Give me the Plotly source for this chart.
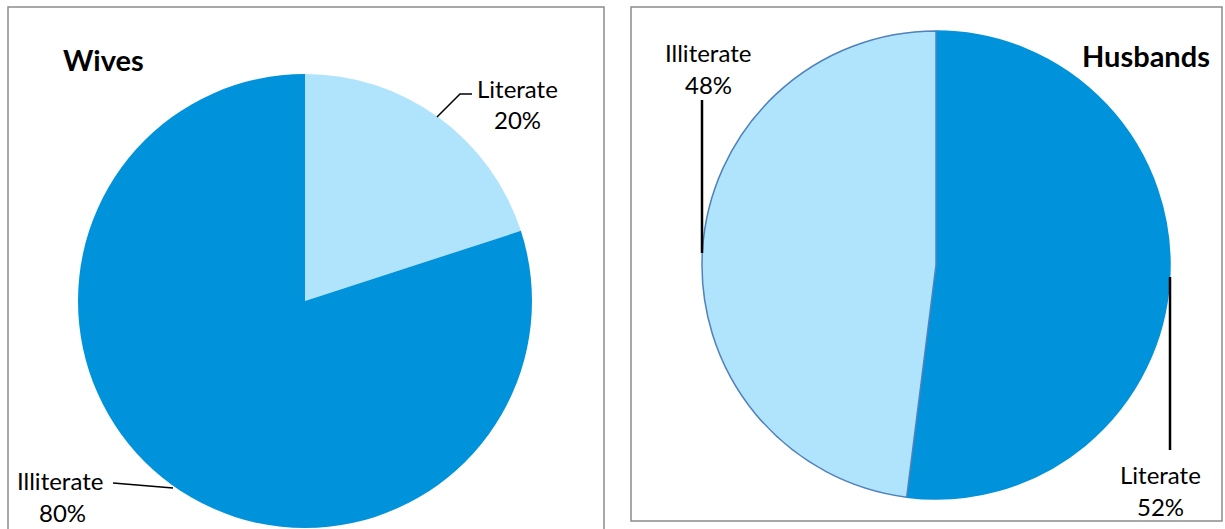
import plotly.graph_objects as go

W, H = 1225, 529

# ---- data ----
wives_labels = ["Literate", "Illiterate"]
wives_values = [20, 80]
husbands_labels = ["Literate", "Illiterate"]
husbands_values = [52, 48]

DARK = "#0092DB"
LIGHT = "#B0E3FC"
OUTLINE = "#4F81BD"
FONT = "Lato"


def px(x):
    return x / W


def py(y):
    return 1 - y / H


fig = go.Figure()

fig.add_trace(go.Pie(
    labels=wives_labels, values=wives_values, sort=False, direction="clockwise",
    rotation=0, textinfo="none", hoverinfo="label+percent",
    marker=dict(colors=[LIGHT, DARK], line=dict(width=0)),
    domain=dict(x=[px(78), px(532)], y=[py(528), py(74)]),
    showlegend=False,
))
fig.add_trace(go.Pie(
    labels=husbands_labels, values=husbands_values, sort=False, direction="clockwise",
    rotation=0, textinfo="none", hoverinfo="label+percent",
    marker=dict(colors=[DARK, LIGHT], line=dict(width=1.5, color=[DARK, OUTLINE])),
    domain=dict(x=[px(702), px(1170)], y=[py(499), py(31)]),
    showlegend=False,
))

shapes = []
# panel borders
shapes.append(dict(type="rect", xref="paper", yref="paper", x0=px(8), x1=px(604), y0=py(540), y1=py(7),
                   line=dict(color="#8C8C8C", width=1.5), fillcolor="rgba(0,0,0,0)", layer="below"))
shapes.append(dict(type="rect", xref="paper", yref="paper", x0=px(631), x1=px(1222), y0=py(521), y1=py(7),
                   line=dict(color="#8C8C8C", width=1.5), fillcolor="rgba(0,0,0,0)", layer="below"))


def path(points, width):
    d = "M " + " L ".join(f"{px(x)},{py(y)}" for x, y in points)
    return dict(type="path", xref="paper", yref="paper", path=d,
                line=dict(color="black", width=width))


# leader lines
shapes.append(path([(437, 117), (460, 94), (472, 94)], 1.5))
shapes.append(path([(113, 483), (173, 488)], 1.5))
shapes.append(path([(702, 100), (702, 253)], 2.5))
shapes.append(path([(1170, 277), (1170, 450)], 2.5))

annotations = []


def text(t, x, y, size=24, bold=False):
    annotations.append(dict(
        text=f"<b>{t}</b>" if bold else t, x=px(x), y=py(y), xref="paper", yref="paper",
        showarrow=False, xanchor="center", yanchor="middle",
        font=dict(family=FONT, size=size, color="black"),
    ))


text("Wives", 103, 60, size=29, bold=True)
text("Husbands", 1146, 55, size=29, bold=True)

text(f"{wives_labels[0]}", 517, 88)
text(f"{wives_values[0]}%", 517, 120)
text(f"{wives_labels[1]}", 60, 480)
text(f"{wives_values[1]}%", 62, 512)
text(f"{husbands_labels[1]}", 708, 53)
text(f"{husbands_values[1]}%", 708, 85)
text(f"{husbands_labels[0]}", 1160, 474)
text(f"{husbands_values[0]}%", 1160, 506)

fig.update_layout(
    width=W, height=H, margin=dict(l=0, r=0, t=0, b=0),
    paper_bgcolor="white", plot_bgcolor="white",
    shapes=shapes, annotations=annotations,
)

fig.write_html(
    "out.html",
    config={"displayModeBar": False},
    post_script="document.body.style.margin='0';document.body.style.overflow='hidden';",
)
